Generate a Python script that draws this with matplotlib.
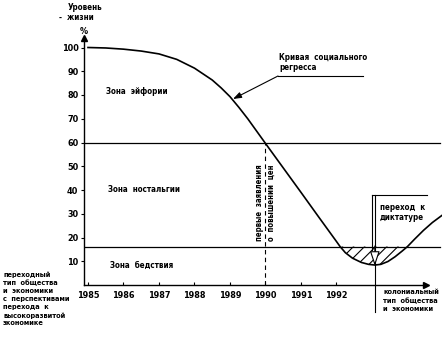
import matplotlib
matplotlib.use('Agg')
import matplotlib.pyplot as plt
import numpy as np

plt.rcParams['font.family'] = ['DejaVu Sans']
plt.rcParams['font.stretch'] = 'condensed'
plt.rcParams['font.weight'] = 'bold'
plt.rcParams['hatch.linewidth'] = 0.8

# ---- data ----
years = [1985.0, 1985.5, 1986.0, 1986.5, 1987.0, 1987.5, 1988.0, 1988.5, 1988.75,
         1989.0, 1989.25, 1989.5, 1989.75, 1990.0, 1990.5, 1991.0, 1991.5, 1992.0,
         1992.1, 1992.25, 1992.45, 1992.7, 1992.9, 1993.08, 1993.25, 1993.45,
         1993.65, 1993.85, 1994.0, 1994.2, 1994.45, 1994.7, 1994.97]
living_level = [100, 99.8, 99.3, 98.5, 97.3, 95.0, 91.3, 86.3, 83.0,
                79.3, 74.8, 70.0, 64.8, 59.6, 49.3, 39.0, 28.6, 18.3,
                16.2, 13.6, 11.3, 9.5, 8.7, 8.4, 8.7, 9.9,
                11.9, 14.3, 16.2, 19.3, 23.0, 26.3, 29.3]
euphoria_threshold = 60
disaster_threshold = 16.2
year_ticks = [1985, 1986, 1987, 1988, 1989, 1990, 1991, 1992]
level_ticks = [10, 20, 30, 40, 50, 60, 70, 80, 90, 100]
first_price_statements = 1990
dictatorship_year = 1993.08
zone_labels = ['Зона  эйфории', 'Зона  ностальгии', 'Зона  бедствия']

# ---- layout ----
W, H = 442, 347
X0, Y0 = 84, 285
PX_YEAR, PX_VAL = 35.5, 2.375
fig = plt.figure(figsize=(W / 100, H / 100), dpi=100)
ax = fig.add_axes([X0 / W, (H - Y0) / H, (W - X0) / W, Y0 / H])
xmin = 1985 - (88 - X0) / PX_YEAR
xmax = xmin + (W - X0) / PX_YEAR
ax.set_xlim(xmin, xmax)
ax.set_ylim(0, Y0 / PX_VAL)

def dx(px):
    return xmin + (px - X0) / PX_YEAR

def dy(py):
    return (Y0 - py) / PX_VAL

def ftext(x, y, s, **kw):
    fig.text(x / W, 1 - y / H, s, **kw)

FS = 5.8

# axes / spines
for s in ['top', 'right']:
    ax.spines[s].set_visible(False)
ax.spines['left'].set_bounds(0, dy(38))
ax.spines['bottom'].set_bounds(xmin, dx(425))
ax.spines['left'].set_linewidth(1.0)
ax.spines['bottom'].set_linewidth(1.0)
ax.plot(xmin, dy(38), marker='^', ms=4, color='k', clip_on=False)
ax.plot(dx(426), 0, marker='>', ms=4, color='k', clip_on=False)

ax.set_yticks(level_ticks)
ax.set_yticklabels([str(v) for v in level_ticks])
ax.set_xticks(year_ticks)
ax.set_xticklabels([str(v) for v in year_ticks])
ax.tick_params(axis='y', length=2.5, width=0.8, pad=1.5, labelsize=6.5)
ax.tick_params(axis='x', length=2, width=0.8, direction='in', pad=4, labelsize=6.5)

# threshold lines
ax.plot([xmin, dx(440)], [euphoria_threshold] * 2, color='k', lw=0.9)
ax.plot([xmin, dx(440)], [disaster_threshold] * 2, color='k', lw=0.9)

# curve
ax.plot(years, living_level, color='k', lw=1.2)
yv = np.array(living_level)
ax.fill_between(years, yv, disaster_threshold, where=yv <= disaster_threshold,
                interpolate=True, facecolor='none', edgecolor='k', hatch='///', lw=0)

# dashed vertical line 1990
ax.plot([first_price_statements] * 2, [0, euphoria_threshold], color='k', lw=0.8,
        ls=(0, (4, 3)))
ax.text(first_price_statements - 0.16, dy(241), 'первые  заявления', rotation=90,
        ha='center', va='bottom', fontsize=5.6)
ax.text(first_price_statements + 0.17, dy(241), 'о  повышении  цен', rotation=90,
        ha='center', va='bottom', fontsize=5.6)

# zone labels
ftext(106, 92, zone_labels[0], fontsize=FS, va='center')
ftext(108, 190, zone_labels[1], fontsize=FS, va='center')
ftext(110, 265, zone_labels[2], fontsize=FS, va='center')

# curve annotation
ftext(279, 57, 'Кривая  социального', fontsize=FS, va='center')
ftext(279, 68, 'регресса', fontsize=FS, va='center')
ax.plot([dx(278), dx(363)], [dy(76), dy(76)], color='k', lw=0.8, clip_on=False)
ax.annotate('', xy=(dx(233), dy(99)), xytext=(dx(278), dy(76)),
            arrowprops=dict(arrowstyle='-|>,head_length=0.5,head_width=0.18',
                            color='k', lw=0.8, shrinkA=0, shrinkB=0))

# dictatorship marker
ax.plot([dictatorship_year] * 2, [dy(312), dy(195)], color='k', lw=0.8, clip_on=False)
ax.plot([dictatorship_year - 0.08] * 2, [dy(250), dy(195)], color='k', lw=0.8, clip_on=False)
ax.plot([dictatorship_year - 0.08, dx(427)], [dy(195)] * 2, color='k', lw=0.8, clip_on=False)
ax.annotate('', xy=(dictatorship_year, dy(266)), xytext=(dictatorship_year, dy(246)),
            arrowprops=dict(arrowstyle='-|>,head_length=0.9,head_width=0.3',
                            fc='white', ec='k', lw=0.8, shrinkA=0, shrinkB=0))
ftext(380, 207, 'переход  к', fontsize=FS, va='center')
ftext(380, 218, 'диктатуре', fontsize=FS, va='center')

# y label
ftext(68, 7, 'Уровень', fontsize=FS, va='center')
ftext(59, 18, '-  жизни', fontsize=FS, va='center')
ftext(80, 31, '%', fontsize=6.5, va='center')

# side notes
ftext(3, 271, 'переходный\nтип  общества\nи  экономики\nс  перспективами\nперехода  к\nвысокоразвитой\nэкономике',
      fontsize=5.3, va='top', linespacing=1.38)
ftext(383, 289, 'колониальный\nтип  общества\nи  экономики', fontsize=5.3, va='top',
      linespacing=1.38)

fig.savefig('out.png', dpi=100)
